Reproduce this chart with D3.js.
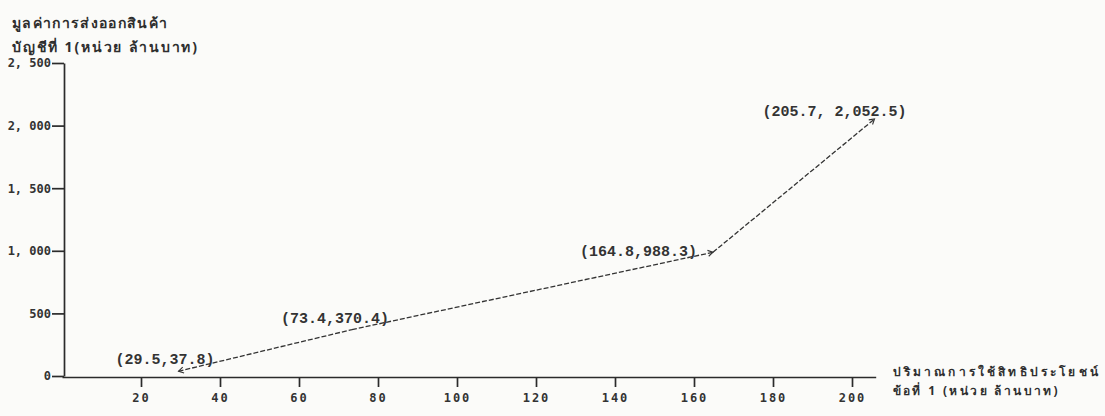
<!DOCTYPE html>
<html>
<head>
<meta charset="utf-8">
<script src="https://cdn.jsdelivr.net/npm/d3@7"></script>
<style>
  body { margin: 0; background: #fbfbf9; }
  svg { display: block; }
  .axis path, .axis line { stroke: #2b2b2b; stroke-width: 1.7; }
  .axis text { font-family: "DejaVu Sans Mono", monospace; font-weight: bold; font-size: 12px; fill: #333; }
  .ann { font-family: "Liberation Mono", monospace; font-weight: bold; font-size: 15px; fill: #333; }
  .ttl { font-family: "Noto Sans", "DejaVu Sans", sans-serif; font-weight: bold; font-size: 14px; fill: #2e2e2e; }
  .ttl.xt { font-size: 12px; }
</style>
</head>
<body>
<div id="chart"></div>
<script>
// export value of list-1 goods vs. amount of privilege no.1 used (million baht)
var xVals = [29.5, 73.4, 164.8, 205.7];
var yVals = [37.8, 370.4, 988.3, 2052.5];
var pointLabels = ["(29.5,37.8)", "(73.4,370.4)", "(164.8,988.3)", "(205.7, 2,052.5)"];
var xTicks = [20, 40, 60, 80, 100, 120, 140, 160, 180, 200];
var yTicks = [0, 500, 1000, 1500, 2000, 2500];
var yTickLabels = ["0", "500", "1, 000", "1, 500", "2, 000", "2, 500"];
var yTitle = ["มูลค่าการส่งออกสินค้า", "บัญชีที่ 1(หน่วย ล้านบาท)"];
var xTitle = ["ปริมาณการใช้สิทธิประโยชน์", "ข้อที่ 1 (หน่วย ล้านบาท)"];

function drawChart() {
    var width = 1105,
        height = 416;

    var x = d3.scaleLinear()
        .domain([0, 206])
        .range([62, 62 + 206 * 3.95]);

    var y = d3.scaleLinear()
        .domain([0, 2500])
        .range([376, 63]);

    var svg = d3.select("#chart").append("svg")
        .attr("width", width)
        .attr("height", height);

    svg.append("defs").append("marker")
        .attr("id", "arr")
        .attr("viewBox", "-6 -4 8 8")
        .attr("markerWidth", 8)
        .attr("markerHeight", 8)
        .attr("markerUnits", "userSpaceOnUse")
        .attr("orient", "auto-start-reverse")
        .append("path")
        .attr("d", "M-5,-3L0,0L-5,3")
        .attr("fill", "none")
        .attr("stroke", "#333")
        .attr("stroke-width", 1.1);

    var xAxis = d3.axisBottom(x)
        .tickValues(xTicks)
        .tickSizeInner(10)
        .tickSizeOuter(0)
        .tickPadding(6);

    var yAxis = d3.axisLeft(y)
        .tickValues(yTicks)
        .tickSizeInner(12)
        .tickSizeOuter(0)
        .tickPadding(1)
        .tickFormat(function (d, i) { return yTickLabels[i]; });

    var gx = svg.append("g")
        .attr("class", "x axis")
        .attr("transform", "translate(0," + (y(0) + 1) + ")")
        .call(xAxis);
    gx.selectAll("text").attr("letter-spacing", "2px");

    svg.append("g")
        .attr("class", "y axis")
        .attr("transform", "translate(" + (x(0) + 2) + ",0)")
        .call(yAxis);

    // y title, top left
    var yTitleW = [155, 185];
    svg.append("g").selectAll("text")
        .data(yTitle)
        .enter().append("text")
        .attr("class", "ttl")
        .attr("x", 12)
        .attr("y", function (d, i) { return 28 + i * 24; })
        .attr("textLength", function (d, i) { return yTitleW[i]; })
        .attr("lengthAdjust", "spacing")
        .text(function (d) { return d; });

    // x title, right of axis end
    var xTitleW = [205, 165];
    svg.append("g").selectAll("text")
        .data(xTitle)
        .enter().append("text")
        .attr("class", "ttl xt")
        .attr("x", x(206) + 17)
        .attr("y", function (d, i) { return 376 + i * 19; })
        .attr("textLength", function (d, i) { return xTitleW[i]; })
        .attr("lengthAdjust", "spacing")
        .text(function (d) { return d; });

    var pts = xVals.map(function (v, i) { return [x(v), y(yVals[i])]; });

    // dashed segments, arrows at 1st, 3rd and 4th point
    var segs = [
        { a: pts[0], b: pts[1], start: true, end: false },
        { a: pts[1], b: pts[2], start: false, end: true },
        { a: pts[2], b: pts[3], start: false, end: true }
    ];
    svg.append("g").selectAll("path")
        .data(segs)
        .enter().append("path")
        .attr("d", function (d) { return d3.line()([d.a, d.b]); })
        .attr("fill", "none")
        .attr("stroke", "#333")
        .attr("stroke-width", 1.3)
        .attr("stroke-dasharray", "5,2")
        .attr("marker-start", function (d) { return d.start ? "url(#arr)" : null; })
        .attr("marker-end", function (d) { return d.end ? "url(#arr)" : null; });

    var labDx = [-63, -71, -133, -112],
        labDy = [-7, -7, 4, -3];
    svg.append("g").selectAll("text")
        .data(pointLabels)
        .enter().append("text")
        .attr("class", "ann")
        .attr("x", function (d, i) { return pts[i][0] + labDx[i]; })
        .attr("y", function (d, i) { return pts[i][1] + labDy[i]; })
        .text(function (d) { return d; });
}

drawChart();
</script>
</body>
</html>
